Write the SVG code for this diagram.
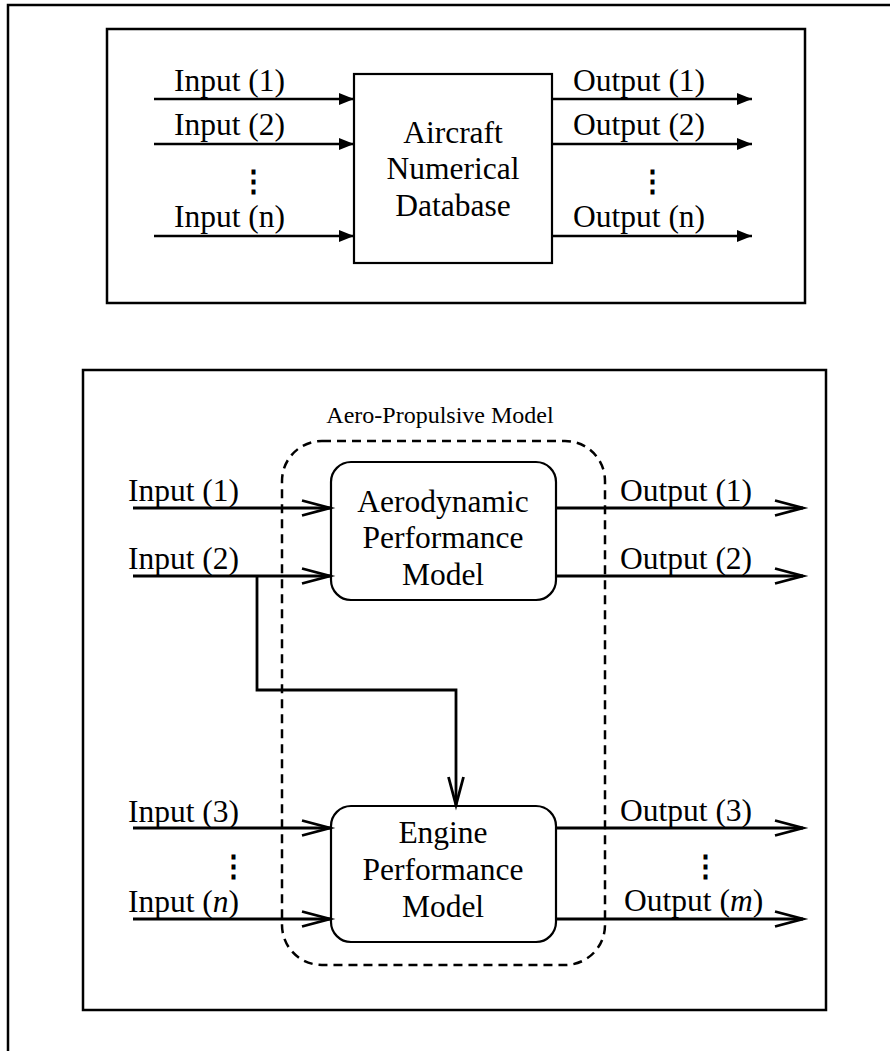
<svg xmlns="http://www.w3.org/2000/svg" width="890" height="1051" viewBox="0 0 890 1051">
<defs>
<style>
.t{font-family:"Liberation Serif","Times New Roman",serif;font-size:31.5px;fill:#000}
.s{font-family:"Liberation Serif","Times New Roman",serif;font-size:24px;fill:#000}
.c{text-anchor:middle}
.dots{font-family:"DejaVu Serif","Liberation Serif",serif;font-size:29px;text-anchor:middle;fill:#000;font-weight:bold}
.frame{fill:none;stroke:#000;stroke-width:2.5}
.box{fill:#fff;stroke:#000;stroke-width:2.2}
.ln{fill:none;stroke:#000;stroke-width:2.5}
.ln2{fill:none;stroke:#000;stroke-width:2.8}
</style>
<marker id="fa" markerUnits="userSpaceOnUse" markerWidth="18" markerHeight="14" refX="15" refY="6" orient="auto" overflow="visible">
<path d="M0,0 L15,6 L0,12 z" fill="#000"/>
</marker>
<marker id="oa" markerUnits="userSpaceOnUse" markerWidth="30" markerHeight="18" refX="28" refY="7.5" orient="auto" overflow="visible">
<path d="M0,0 L28,7.5 L0,15" fill="none" stroke="#000" stroke-width="2.8"/>
</marker>
</defs>
<rect width="890" height="1051" fill="#fff"/>
<g id="outer-frame"><path class="frame" d="M8,1060 V5 H900"/></g>

<g id="top-panel"><rect class="frame" x="107" y="29" width="698" height="274" stroke-width="2"/></g>
<g id="aircraft-db">
<rect class="box" x="354" y="74" width="198" height="189"/>
<text class="t c" x="453" y="143">Aircraft</text>
<text class="t c" x="453" y="179">Numerical</text>
<text class="t c" x="453" y="216">Database</text>
</g>
<g id="top-labels">
<text class="t" x="174" y="91">Input (1)</text>
<text class="t" x="174" y="135">Input (2)</text>
<text class="dots" x="253" y="191">⋮</text>
<text class="t" x="174" y="227">Input (n)</text>
<text class="t" x="573" y="91">Output (1)</text>
<text class="t" x="573" y="135">Output (2)</text>
<text class="dots" x="652" y="191">⋮</text>
<text class="t" x="573" y="227">Output (n)</text>
</g>

<g id="bottom-panel"><rect class="frame" x="83" y="370" width="743" height="640" stroke-width="2"/></g>
<g id="aero-propulsive-model">
<rect x="282" y="441" width="323" height="524" rx="40" ry="40" fill="none" stroke="#000" stroke-width="2.5" stroke-dasharray="9,6"/>
<text class="s c" x="440" y="423">Aero-Propulsive Model</text>
</g>
<g id="aero-model">
<rect class="box" x="331" y="462" width="225" height="138" rx="20" ry="20" stroke-width="2.5"/>
<text class="t c" x="443" y="512">Aerodynamic</text>
<text class="t c" x="443" y="548">Performance</text>
<text class="t c" x="443" y="585">Model</text>
</g>
<g id="engine-model">
<rect class="box" x="331" y="806" width="225" height="136" rx="20" ry="20" stroke-width="2.5"/>
<text class="t c" x="443" y="843">Engine</text>
<text class="t c" x="443" y="880">Performance</text>
<text class="t c" x="443" y="917">Model</text>
</g>
<g id="bottom-labels">
<text class="t" x="128" y="501">Input (1)</text>
<text class="t" x="128" y="569">Input (2)</text>
<text class="t" x="128" y="822">Input (3)</text>
<text class="dots" x="233" y="876">⋮</text>
<text class="t" x="128" y="912">Input (<tspan font-style="italic">n</tspan>)</text>
<text class="t" x="620" y="501">Output (1)</text>
<text class="t" x="620" y="569">Output (2)</text>
<text class="t" x="620" y="821">Output (3)</text>
<text class="dots" x="705" y="876">⋮</text>
<text class="t" x="624" y="911">Output (<tspan font-style="italic">m</tspan>)</text>
</g>

<g id="connectors">
<path class="ln" d="M154,99 H354" marker-end="url(#fa)"/>
<path class="ln" d="M154,144 H354" marker-end="url(#fa)"/>
<path class="ln" d="M154,236 H354" marker-end="url(#fa)"/>
<path class="ln" d="M552,99 H752" marker-end="url(#fa)"/>
<path class="ln" d="M552,144 H752" marker-end="url(#fa)"/>
<path class="ln" d="M552,236 H752" marker-end="url(#fa)"/>

<path class="ln2" d="M133,508 H330" marker-end="url(#oa)"/>
<path class="ln2" d="M133,576 H330" marker-end="url(#oa)"/>
<path class="ln2" d="M257,576 V690 H456 V805" marker-end="url(#oa)"/>
<path class="ln2" d="M133,828 H330" marker-end="url(#oa)"/>
<path class="ln2" d="M133,919 H330" marker-end="url(#oa)"/>
<path class="ln2" d="M556,508 H803" marker-end="url(#oa)"/>
<path class="ln2" d="M556,576 H803" marker-end="url(#oa)"/>
<path class="ln2" d="M556,828 H803" marker-end="url(#oa)"/>
<path class="ln2" d="M556,919 H803" marker-end="url(#oa)"/>
</g>
</svg>
